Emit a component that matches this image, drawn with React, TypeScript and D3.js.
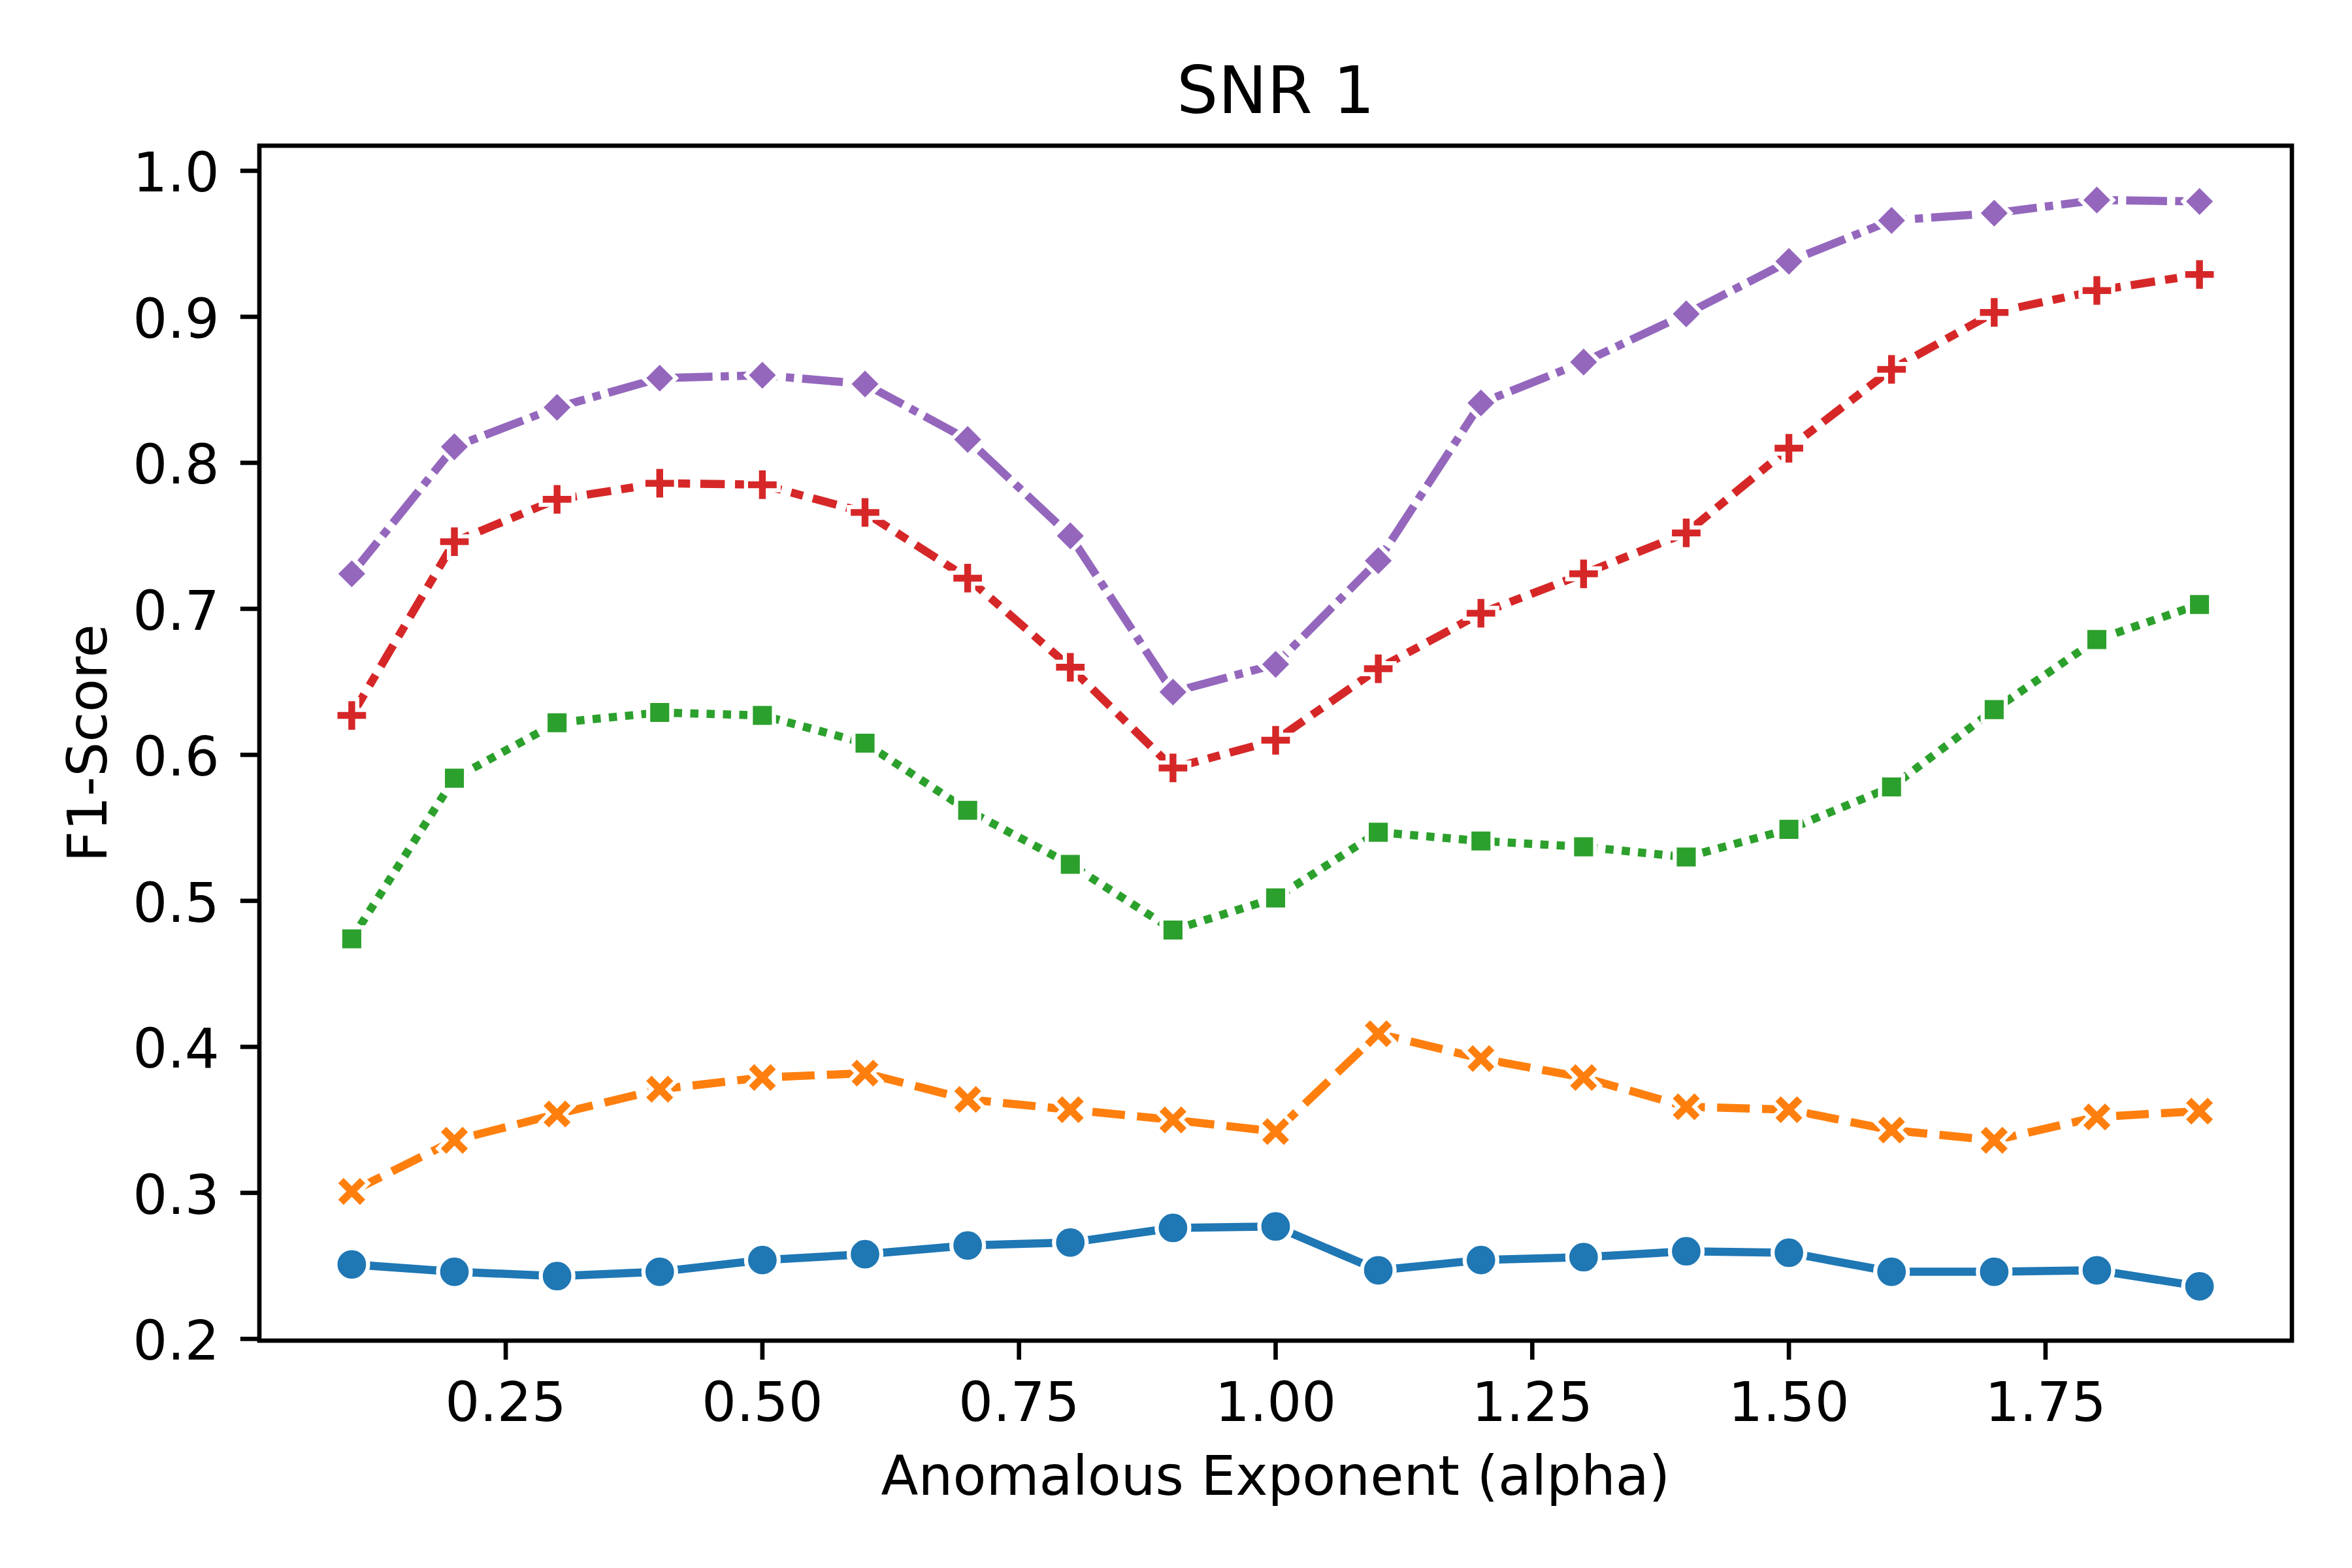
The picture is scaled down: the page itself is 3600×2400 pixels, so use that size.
import React from "react";
import * as d3 from "d3";

const alphas = [0.1, 0.2, 0.3, 0.4, 0.5, 0.6, 0.7, 0.8, 0.9, 1.0, 1.1, 1.2, 1.3, 1.4, 1.5, 1.6, 1.7, 1.8, 1.9];

const seriesA = [0.251, 0.246, 0.243, 0.246, 0.254, 0.258, 0.264, 0.266, 0.276, 0.277, 0.247, 0.254, 0.256, 0.260, 0.259, 0.246, 0.246, 0.247, 0.236];
const seriesB = [0.301, 0.336, 0.354, 0.371, 0.379, 0.382, 0.364, 0.357, 0.350, 0.342, 0.409, 0.392, 0.379, 0.359, 0.357, 0.343, 0.336, 0.352, 0.356];
const seriesC = [0.474, 0.584, 0.622, 0.629, 0.627, 0.608, 0.562, 0.525, 0.480, 0.502, 0.547, 0.541, 0.537, 0.530, 0.549, 0.578, 0.631, 0.679, 0.703];
const seriesD = [0.627, 0.746, 0.775, 0.786, 0.785, 0.766, 0.721, 0.660, 0.591, 0.610, 0.659, 0.697, 0.724, 0.752, 0.810, 0.864, 0.903, 0.918, 0.929];
const seriesE = [0.724, 0.811, 0.838, 0.858, 0.860, 0.854, 0.816, 0.750, 0.643, 0.662, 0.733, 0.841, 0.869, 0.902, 0.938, 0.966, 0.971, 0.980, 0.979];

const xTicks = [0.25, 0.5, 0.75, 1.0, 1.25, 1.5, 1.75];
const yTicks = [0.2, 0.3, 0.4, 0.5, 0.6, 0.7, 0.8, 0.9, 1.0];

const colors = ["#1f77b4", "#ff7f0e", "#2ca02c", "#d62728", "#9467bd"];

const W = 3600;
const H = 2400;
const left = 397;
const right = 3508;
const top = 223;
const bottom = 2052;
const LW = 12.5; // 1.5pt at 600dpi
const MS = 50; // 6pt marker
const MEW = 6.25;
const FONT = "DejaVu Sans";

// seaborn default dash patterns, scaled by linewidth
const dashPatterns = [
  null,
  [4, 1.5],
  [1, 1],
  [3, 1.25, 1.5, 1.25],
  [5, 1, 1, 1],
];

type MarkerKind = "circle" | "xfilled" | "square" | "plus" | "diamond";
const markerKinds: MarkerKind[] = ["circle", "xfilled", "square", "plus", "diamond"];

function markerPath(kind: MarkerKind): { d: string; rotate: number } {
  switch (kind) {
    case "circle":
      return { d: d3.symbol().type(d3.symbolCircle).size(Math.PI * (MS / 2) ** 2)()!, rotate: 0 };
    case "square": {
      const side = (MS / 2) * Math.SQRT2;
      return { d: d3.symbol().type(d3.symbolSquare).size(side * side)()!, rotate: 0 };
    }
    case "diamond": {
      const side = (MS / 2) * Math.SQRT2;
      return { d: d3.symbol().type(d3.symbolSquare).size(side * side)()!, rotate: 45 };
    }
    case "plus": {
      const r = MS / 6;
      return { d: d3.symbol().type(d3.symbolCross).size((2 * r) ** 2 * 5)()!, rotate: 0 };
    }
    case "xfilled": {
      const r = (MS * Math.SQRT2) / 8;
      return { d: d3.symbol().type(d3.symbolCross).size((2 * r) ** 2 * 5)()!, rotate: 45 };
    }
  }
}

export default function App() {
  const allSeries = [seriesA, seriesB, seriesC, seriesD, seriesE];
  const allVals = allSeries.flat();
  const [ymin, ymax] = d3.extent(allVals) as [number, number];
  const ypad = (ymax - ymin) * 0.05;
  const [xmin, xmax] = d3.extent(alphas) as [number, number];
  const xpad = (xmax - xmin) * 0.05;

  const x = d3.scaleLinear().domain([xmin - xpad, xmax + xpad]).range([left, right]);
  const y = d3.scaleLinear().domain([ymin - ypad, ymax + ypad]).range([bottom, top]);

  const line = d3
    .line<number>()
    .x((_, i) => x(alphas[i]))
    .y((d) => y(d));

  const tickLen = 29.17;
  const tickW = 6.67;
  const fs = 83.33;

  return (
    <svg
      width={W}
      height={H}
      viewBox={`0 0 ${W} ${H}`}
      style={{ position: "absolute", left: 0, top: 0, background: "#fff" }}
      fontFamily={FONT}
    >
      <rect x={0} y={0} width={W} height={H} fill="#fff" />
      {allSeries.map((vals, si) => {
        const dp = dashPatterns[si];
        const m = markerPath(markerKinds[si]);
        return (
          <g key={si}>
            <path
              d={line(vals)!}
              fill="none"
              stroke={colors[si]}
              strokeWidth={LW}
              strokeLinejoin="round"
              strokeLinecap={dp ? "butt" : "square"}
              strokeDasharray={dp ? dp.map((v) => v * LW).join(" ") : undefined}
            />
            {vals.map((v, i) => (
              <path
                key={i}
                d={m.d}
                transform={`translate(${x(alphas[i])},${y(v)}) rotate(${m.rotate})`}
                fill={colors[si]}
                stroke="#fff"
                strokeWidth={MEW}
              />
            ))}
          </g>
        );
      })}
      {/* spines */}
      <rect
        x={left}
        y={top}
        width={right - left}
        height={bottom - top}
        fill="none"
        stroke="#000"
        strokeWidth={tickW}
        strokeLinejoin="miter"
      />
      {/* x ticks */}
      {xTicks.map((t) => (
        <g key={"x" + t}>
          <line x1={x(t)} x2={x(t)} y1={bottom} y2={bottom + tickLen} stroke="#000" strokeWidth={tickW} />
          <text x={x(t)} y={bottom + 123} textAnchor="middle" fontSize={fs} fill="#000">
            {d3.format(".2f")(t)}
          </text>
        </g>
      ))}
      {/* y ticks */}
      {yTicks.map((t) => (
        <g key={"y" + t}>
          <line x1={left - tickLen} x2={left} y1={y(t)} y2={y(t)} stroke="#000" strokeWidth={tickW} />
          <text x={left - tickLen - 32} y={y(t) + 32} textAnchor="end" fontSize={fs} fill="#000">
            {d3.format(".1f")(t)}
          </text>
        </g>
      ))}
      <text x={(left + right) / 2} y={2288} textAnchor="middle" fontSize={fs} fill="#000">
        Anomalous Exponent (alpha)
      </text>
      <text
        transform={`translate(163,${(top + bottom) / 2}) rotate(-90)`}
        textAnchor="middle"
        fontSize={fs}
        fill="#000"
      >
        F1-Score
      </text>
      <text x={(left + right) / 2} y={173} textAnchor="middle" fontSize={100} fill="#000">
        SNR 1
      </text>
    </svg>
  );
}
